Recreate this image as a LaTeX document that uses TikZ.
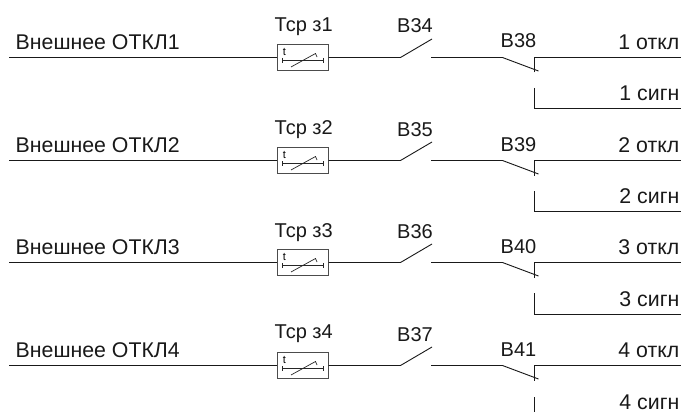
\documentclass[tikz,border=0pt]{standalone}
\usepackage{fontspec}
\setmainfont{Liberation Sans}
\tikzset{x=1pt,y=-1pt,
  wire/.style={line width=0.9pt,black!90},
  thin wire/.style={line width=0.7pt,black!85},
  relay/.style={draw=black!70,line width=1pt,minimum width=51pt,minimum height=26pt,inner sep=0pt},
  lbl/.style={inner sep=0pt,text=black!90,font=\fontsize{20pt}{24pt}\selectfont},
  lbll/.style={inner sep=0pt,text=black!90,font=\fontsize{21.3pt}{24pt}\selectfont}}
\newcommand{\rowdraw}[9]{%
 \begin{scope}[shift={(0,#1)}]
  \coordinate (s#8) at (9,0);
  \node[relay] (t#8) at (302.5,0) {};
  \coordinate (a#8) at (400.5,0);
  \coordinate (b#8) at (432,-18.5);
  \coordinate (c#8) at (431,0);
  \coordinate (d#8) at (502.5,0);
  \coordinate (e#8) at (538.5,13.5);
  \coordinate (f#8) at (534.5,15);
  \coordinate (g#8) at (534.5,0);
  \coordinate (h#8) at (681,0);
  \draw[wire] (s#8) -- (t#8.west);
  \draw[wire] (t#8.east) -- (a#8) -- (b#8);
  \draw[wire] (c#8) -- (d#8) -- (e#8);
  \draw[wire] (f#8) -- (g#8) -- (h#8);
  \coordinate (tl#8) at (282,3);
  \coordinate (tr#8) at (323,3);
  \coordinate (p#8) at (291,9.5);
  \coordinate (q#8) at (315.5,-4);
  \coordinate (q2#8) at (317,-0.5);
  \draw[thin wire] (tl#8) -- (tr#8);
  \draw[thin wire] (282,0.5) -- (282,5.5) (323,0.5) -- (323,5.5);
  \draw[thin wire] (p#8) -- (q#8) -- (q2#8);
  \node[inner sep=0pt,anchor=base,font=\fontsize{11pt}{12pt}\selectfont] (tt#8) at (284.3,-2) {t};
  \node[lbll,anchor=base west] (x#8) at (15.5,-8) {#2};
  \node[lbl,anchor=base west] (y#8) at (274.5,#9) {#3};
  \node[lbl,anchor=base west] (z#8) at (397,-24.5) {#4};
  \node[lbl,anchor=base west] (w#8) at (500.5,-9.5) {#5};
  \node[lbll,anchor=base east] (o#8) at (679.5,-8) {#6};
  \node[lbll,anchor=base east] (u#8) at (679.5,43.5) {#7};
 \end{scope}}
\begin{document}
\begin{tikzpicture}
\useasboundingbox (0,0) rectangle (681,412);
\fill[white] (0,0) rectangle (681,412);
\rowdraw{57.5}{Внешнее ОТКЛ1}{Тср з1}{В34}{В38}{1 откл}{1 сигн}{1}{-25.5}
\rowdraw{160.5}{Внешнее ОТКЛ2}{Тср з2}{В35}{В39}{2 откл}{2 сигн}{2}{-26}
\rowdraw{262.5}{Внешнее ОТКЛ3}{Тср з3}{В36}{В40}{3 откл}{3 сигн}{3}{-25.5}
\rowdraw{365.5}{Внешнее ОТКЛ4}{Тср з4}{В37}{В41}{4 откл}{4 сигн}{4}{-27.5}
\coordinate (v1) at (534.5,88); \coordinate (w1) at (534.5,108.5); \coordinate (k1) at (681,108.5);
\draw[wire] (v1) -- (w1) -- (k1);
\coordinate (v2) at (534.5,191); \coordinate (w2) at (534.5,211.5); \coordinate (k2) at (681,211.5);
\draw[wire] (v2) -- (w2) -- (k2);
\coordinate (v3) at (534.5,293); \coordinate (w3) at (534.5,314.5); \coordinate (k3) at (681,314.5);
\draw[wire] (v3) -- (w3) -- (k3);
\coordinate (v4) at (534.5,397); \coordinate (w4) at (534.5,412);
\draw[wire] (v4) -- (w4);
\end{tikzpicture}
\end{document}
